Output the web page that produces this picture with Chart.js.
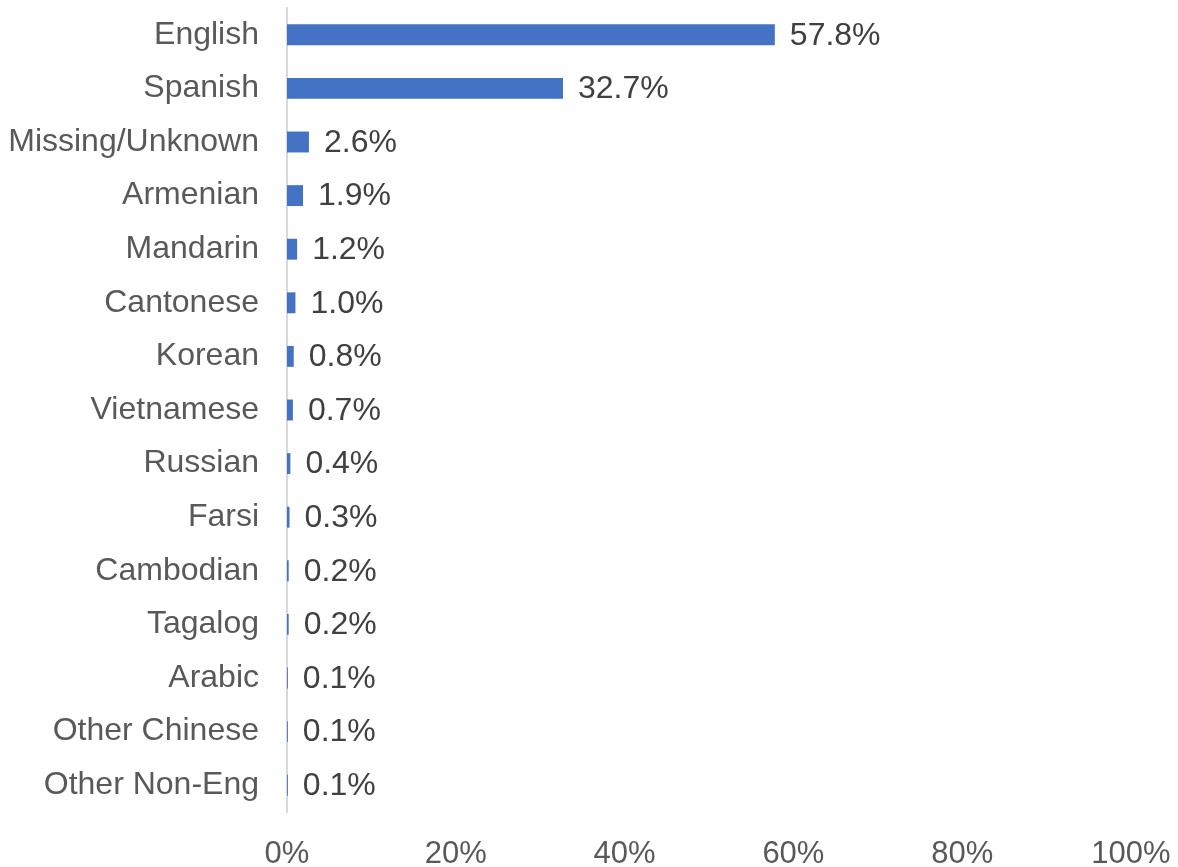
<!DOCTYPE html>
<html>
<head>
<meta charset="utf-8">
<script src="https://cdn.jsdelivr.net/npm/chart.js@4"></script>
<style>
    html, body { margin: 0; padding: 0; background: #fff; }
    #wrap { width: 1178px; height: 867px; }
</style>
</head>
<body>
<div id="wrap"><canvas id="langChart"></canvas></div>
<script>
// Share of records by language (%)
const languages = ['English', 'Spanish', 'Missing/Unknown', 'Armenian', 'Mandarin', 'Cantonese',
    'Korean', 'Vietnamese', 'Russian', 'Farsi', 'Cambodian', 'Tagalog', 'Arabic',
    'Other Chinese', 'Other Non-Eng'];
const shares = [57.8, 32.7, 2.6, 1.9, 1.2, 1.0, 0.8, 0.7, 0.4, 0.3, 0.2, 0.2, 0.1, 0.1, 0.1];
const xTicks = [0, 20, 40, 60, 80, 100];

const FONT = "'Liberation Sans', Arial, sans-serif";

// Writes the value at the end of each bar
const valueLabels = {
    id: 'valueLabels',
    afterDatasetsDraw(chart) {
        const ctx = chart.ctx;
        const meta = chart.getDatasetMeta(0);
        ctx.save();
        ctx.font = '32px ' + FONT;
        ctx.fillStyle = '#404040';
        ctx.textAlign = 'left';
        ctx.textBaseline = 'middle';
        meta.data.forEach((bar, i) => {
            ctx.fillText(shares[i].toFixed(1) + '%', bar.x + 15, bar.y + 1);
        });
        ctx.restore();
    }
};

// drop the extra room Chart.js keeps for overhanging tick labels
function noScalePadding(scale) {
    scale.paddingTop = 0;
    scale.paddingBottom = 0;
    scale.paddingLeft = 0;
    scale.paddingRight = 0;
}

function createLanguageChart() {
    const ctx = document.getElementById('langChart').getContext('2d');
    return new Chart(ctx, {
        type: 'bar',
        data: {
            labels: languages,
            datasets: [{
                data: shares,
                backgroundColor: '#4472C4',
                borderWidth: 0,
                barPercentage: 1,
                categoryPercentage: 0.39
            }]
        },
        options: {
            indexAxis: 'y',
            responsive: true,
            maintainAspectRatio: false,
            animation: false,
            layout: {
                padding: { top: 8, right: 47, bottom: 0, left: 0 }
            },
            plugins: {
                legend: { display: false },
                tooltip: { enabled: false }
            },
            scales: {
                x: {
                    min: 0,
                    max: 100,
                    afterBuildTicks: scale => {
                        scale.ticks = xTicks.map(v => ({ value: v }));
                    },
                    afterFit: scale => {
                        scale.height = 55;
                        noScalePadding(scale);
                    },
                    grid: { display: false, drawTicks: false },
                    border: { display: false },
                    ticks: {
                        padding: 24,
                        color: '#595959',
                        font: { family: FONT, size: 31 },
                        callback: v => v + '%'
                    }
                },
                y: {
                    afterFit: scale => {
                        scale.width = 287;
                        noScalePadding(scale);
                    },
                    grid: { display: false, drawTicks: false },
                    border: { display: true, color: '#d9d9d9', width: 2 },
                    ticks: {
                        padding: 28,
                        color: '#595959',
                        font: { family: FONT, size: 32 }
                    }
                }
            }
        },
        plugins: [valueLabels]
    });
}

createLanguageChart();
</script>
</body>
</html>
